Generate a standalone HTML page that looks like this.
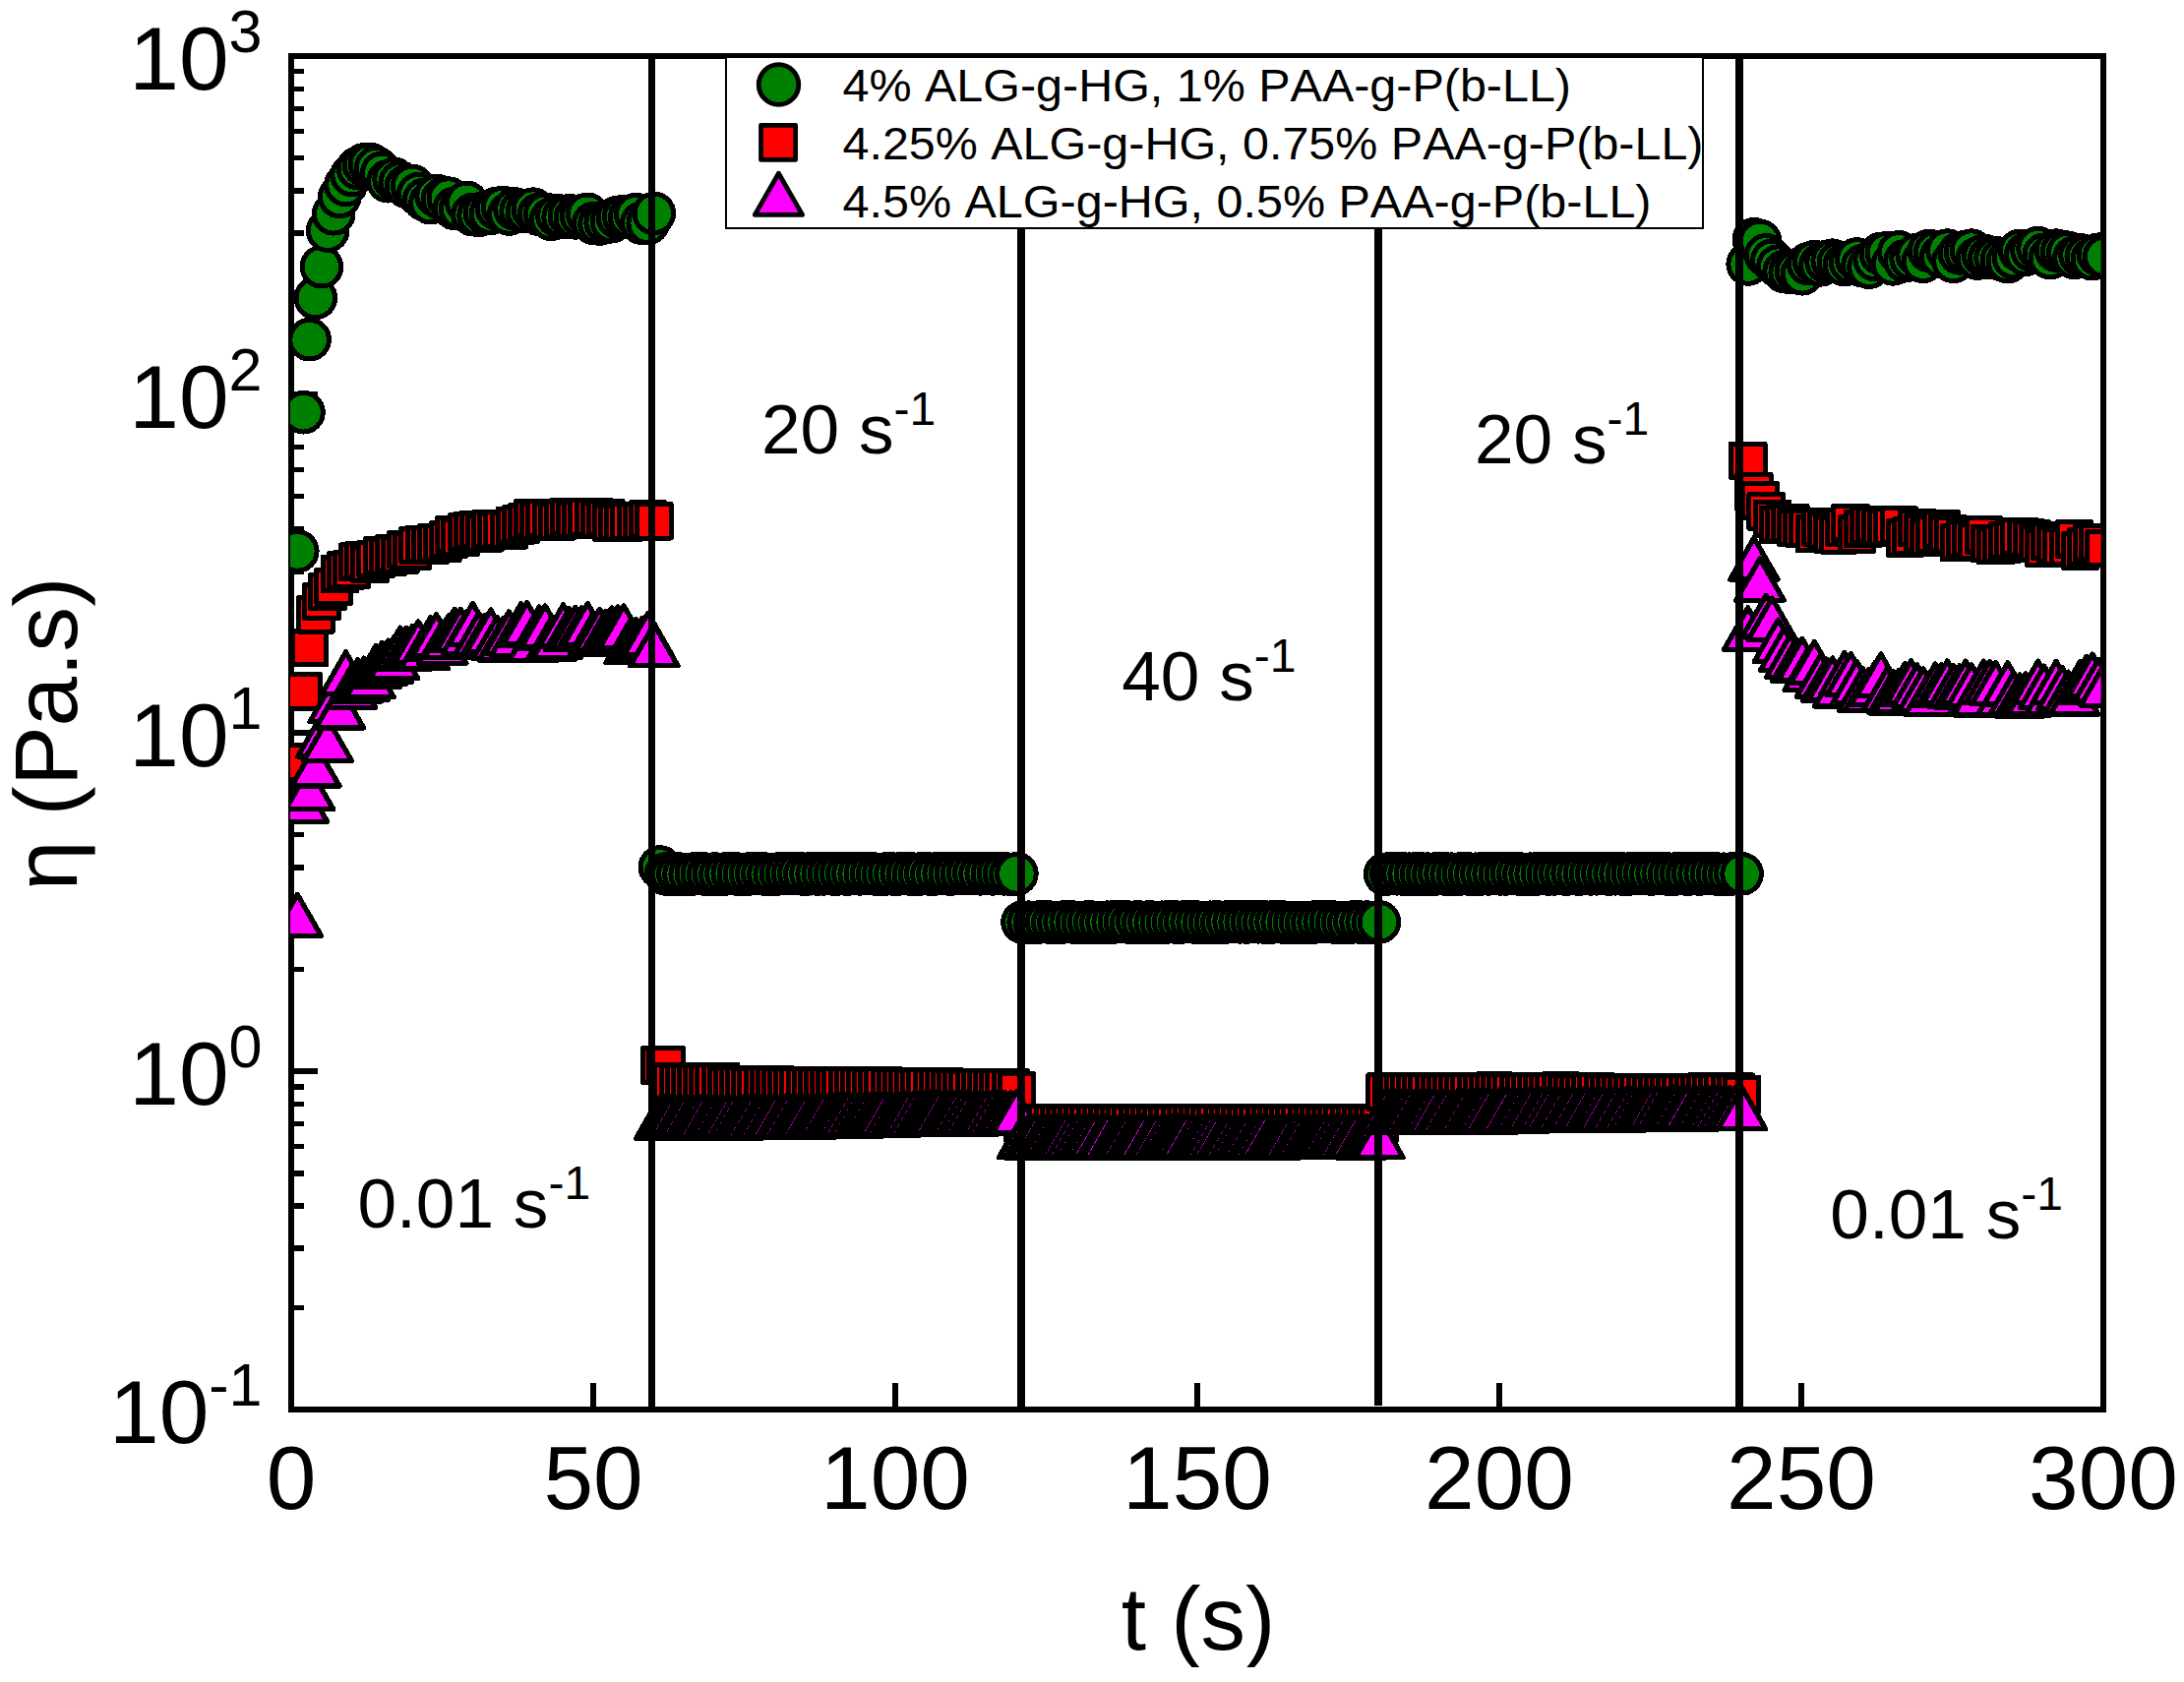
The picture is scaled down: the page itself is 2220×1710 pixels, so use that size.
<!DOCTYPE html>
<html lang="en"><head><meta charset="utf-8"><title>Viscosity recovery plot</title>
<style>html,body{margin:0;padding:0;background:#fff}body{width:2220px;height:1710px;overflow:hidden}svg{display:block}text{font-family:"Liberation Sans",Arial,Helvetica,sans-serif;fill:#000;font-kerning:none}.tk{font-size:91px}.sup{font-size:61px}.an{font-size:71.2px}.ans{font-size:48px}.lg{font-size:47px}.m{stroke:#000;stroke-width:4.8;stroke-linejoin:round}.d{stroke-width:5}.g{fill:#008000}.r{fill:#ff0000}.p{fill:#ff00ff}</style></head><body>
<svg width="2220" height="1710" viewBox="0 0 2220 1710">
<rect x="0" y="0" width="2220" height="1710" fill="#fff"/>
<defs>
<clipPath id="plotclip"><rect x="295" y="57.0" width="1840.1999999999998" height="1376.3"/></clipPath>
<clipPath id="xtclip"><rect x="1100" y="1610" width="240" height="85"/></clipPath>
<clipPath id="ytclip"><rect x="12.2" y="560" width="84.4" height="380"/></clipPath>
<clipPath id="lgclip"><rect x="738" y="57" width="993" height="176"/></clipPath>
</defs>
<g id="ticks" stroke="#000" stroke-width="5.5" fill="none" shape-rendering="crispEdges">
<line x1="296.0" y1="297.5" x2="309.0" y2="297.5"/>
<line x1="296.0" y1="236.9" x2="309.0" y2="236.9"/>
<line x1="296.0" y1="193.9" x2="309.0" y2="193.9"/>
<line x1="296.0" y1="160.6" x2="309.0" y2="160.6"/>
<line x1="296.0" y1="133.3" x2="309.0" y2="133.3"/>
<line x1="296.0" y1="110.3" x2="309.0" y2="110.3"/>
<line x1="296.0" y1="90.3" x2="309.0" y2="90.3"/>
<line x1="296.0" y1="72.7" x2="309.0" y2="72.7"/>
<line x1="296.0" y1="401.1" x2="323.0" y2="401.1"/>
<line x1="296.0" y1="641.6" x2="309.0" y2="641.6"/>
<line x1="296.0" y1="581.0" x2="309.0" y2="581.0"/>
<line x1="296.0" y1="538.0" x2="309.0" y2="538.0"/>
<line x1="296.0" y1="504.7" x2="309.0" y2="504.7"/>
<line x1="296.0" y1="477.4" x2="309.0" y2="477.4"/>
<line x1="296.0" y1="454.4" x2="309.0" y2="454.4"/>
<line x1="296.0" y1="434.4" x2="309.0" y2="434.4"/>
<line x1="296.0" y1="416.8" x2="309.0" y2="416.8"/>
<line x1="296.0" y1="745.1" x2="323.0" y2="745.1"/>
<line x1="296.0" y1="985.6" x2="309.0" y2="985.6"/>
<line x1="296.0" y1="925.1" x2="309.0" y2="925.1"/>
<line x1="296.0" y1="882.1" x2="309.0" y2="882.1"/>
<line x1="296.0" y1="848.7" x2="309.0" y2="848.7"/>
<line x1="296.0" y1="821.5" x2="309.0" y2="821.5"/>
<line x1="296.0" y1="798.4" x2="309.0" y2="798.4"/>
<line x1="296.0" y1="778.5" x2="309.0" y2="778.5"/>
<line x1="296.0" y1="760.9" x2="309.0" y2="760.9"/>
<line x1="296.0" y1="1089.2" x2="323.0" y2="1089.2"/>
<line x1="296.0" y1="1329.7" x2="309.0" y2="1329.7"/>
<line x1="296.0" y1="1269.1" x2="309.0" y2="1269.1"/>
<line x1="296.0" y1="1226.1" x2="309.0" y2="1226.1"/>
<line x1="296.0" y1="1192.8" x2="309.0" y2="1192.8"/>
<line x1="296.0" y1="1165.6" x2="309.0" y2="1165.6"/>
<line x1="296.0" y1="1142.5" x2="309.0" y2="1142.5"/>
<line x1="296.0" y1="1122.6" x2="309.0" y2="1122.6"/>
<line x1="296.0" y1="1105.0" x2="309.0" y2="1105.0"/>
<line x1="603.0" y1="1433.3" x2="603.0" y2="1405.6"/>
<line x1="910.0" y1="1433.3" x2="910.0" y2="1405.6"/>
<line x1="1217.0" y1="1433.3" x2="1217.0" y2="1405.6"/>
<line x1="1524.0" y1="1433.3" x2="1524.0" y2="1405.6"/>
<line x1="1831.0" y1="1433.3" x2="1831.0" y2="1405.6"/>
</g>
<rect x="296.0" y="57.0" width="1842.0" height="1376.3" fill="none" stroke="#000" stroke-width="6.2" shape-rendering="crispEdges"/>
<g id="data" clip-path="url(#plotclip)" shape-rendering="crispEdges">
<g class="m g d">
<circle cx="302.3" cy="560.4" r="19.8"/>
<circle cx="308.5" cy="419.2" r="19.8"/>
<circle cx="314.6" cy="345.2" r="19.8"/>
<circle cx="320.8" cy="302.9" r="19.8"/>
<circle cx="326.9" cy="271.2" r="19.8"/>
<circle cx="333.1" cy="234.6" r="19.8"/>
<circle cx="339.2" cy="217.3" r="19.8"/>
<circle cx="345.3" cy="200.0" r="19.8"/>
<circle cx="351.5" cy="188.0" r="19.8"/>
<circle cx="357.6" cy="178.0" r="19.8"/>
<circle cx="363.8" cy="171.0" r="19.8"/>
<circle cx="369.9" cy="167.5" r="19.8"/>
<circle cx="376.1" cy="166.9" r="19.8"/>
<circle cx="382.2" cy="170.4" r="19.8"/>
<circle cx="388.3" cy="175.8" r="19.8"/>
<circle cx="394.5" cy="184.3" r="19.8"/>
<circle cx="400.6" cy="181.9" r="19.8"/>
<circle cx="406.8" cy="185.5" r="19.8"/>
<circle cx="412.9" cy="189.5" r="19.8"/>
<circle cx="419.1" cy="189.0" r="19.8"/>
<circle cx="425.2" cy="197.2" r="19.8"/>
<circle cx="431.4" cy="202.9" r="19.8"/>
<circle cx="437.5" cy="206.1" r="19.8"/>
<circle cx="443.6" cy="198.9" r="19.8"/>
<circle cx="449.8" cy="202.7" r="19.8"/>
<circle cx="455.9" cy="201.6" r="19.8"/>
<circle cx="462.1" cy="211.9" r="19.8"/>
<circle cx="468.2" cy="212.1" r="19.8"/>
<circle cx="474.4" cy="205.8" r="19.8"/>
<circle cx="480.5" cy="218.1" r="19.8"/>
<circle cx="486.6" cy="218.9" r="19.8"/>
<circle cx="492.8" cy="216.2" r="19.8"/>
<circle cx="498.9" cy="216.8" r="19.8"/>
<circle cx="505.1" cy="212.0" r="19.8"/>
<circle cx="511.2" cy="210.9" r="19.8"/>
<circle cx="517.4" cy="217.6" r="19.8"/>
<circle cx="523.5" cy="212.5" r="19.8"/>
<circle cx="529.6" cy="214.4" r="19.8"/>
<circle cx="535.8" cy="215.1" r="19.8"/>
<circle cx="541.9" cy="212.6" r="19.8"/>
<circle cx="548.1" cy="217.9" r="19.8"/>
<circle cx="554.2" cy="217.8" r="19.8"/>
<circle cx="560.4" cy="222.8" r="19.8"/>
<circle cx="566.5" cy="219.1" r="19.8"/>
<circle cx="572.6" cy="220.8" r="19.8"/>
<circle cx="578.8" cy="219.3" r="19.8"/>
<circle cx="584.9" cy="221.4" r="19.8"/>
<circle cx="591.1" cy="219.4" r="19.8"/>
<circle cx="597.2" cy="217.8" r="19.8"/>
<circle cx="603.4" cy="227.0" r="19.8"/>
<circle cx="609.5" cy="227.5" r="19.8"/>
<circle cx="615.7" cy="226.2" r="19.8"/>
<circle cx="621.8" cy="225.1" r="19.8"/>
<circle cx="627.9" cy="220.9" r="19.8"/>
<circle cx="634.1" cy="220.0" r="19.8"/>
<circle cx="640.2" cy="220.8" r="19.8"/>
<circle cx="646.4" cy="218.2" r="19.8"/>
<circle cx="652.5" cy="226.7" r="19.8"/>
<circle cx="658.7" cy="226.9" r="19.8"/>
<circle cx="664.8" cy="216.9" r="19.8"/>
<circle cx="670.9" cy="881.5" r="19.8"/>
<circle cx="677.1" cy="888.5" r="19.8"/>
<circle cx="683.2" cy="888.9" r="19.8"/>
<circle cx="689.4" cy="888.5" r="19.8"/>
<circle cx="695.5" cy="889.0" r="19.8"/>
<circle cx="701.7" cy="888.9" r="19.8"/>
<circle cx="707.8" cy="888.1" r="19.8"/>
<circle cx="713.9" cy="888.3" r="19.8"/>
<circle cx="720.1" cy="889.0" r="19.8"/>
<circle cx="726.2" cy="888.5" r="19.8"/>
<circle cx="732.4" cy="889.0" r="19.8"/>
<circle cx="738.5" cy="888.4" r="19.8"/>
<circle cx="744.7" cy="888.1" r="19.8"/>
<circle cx="750.8" cy="888.7" r="19.8"/>
<circle cx="756.9" cy="888.8" r="19.8"/>
<circle cx="763.1" cy="888.3" r="19.8"/>
<circle cx="769.2" cy="888.1" r="19.8"/>
<circle cx="775.4" cy="888.3" r="19.8"/>
<circle cx="781.5" cy="889.0" r="19.8"/>
<circle cx="787.7" cy="888.8" r="19.8"/>
<circle cx="793.8" cy="888.1" r="19.8"/>
<circle cx="800.0" cy="888.2" r="19.8"/>
<circle cx="806.1" cy="888.1" r="19.8"/>
<circle cx="812.2" cy="888.0" r="19.8"/>
<circle cx="818.4" cy="888.8" r="19.8"/>
<circle cx="824.5" cy="888.2" r="19.8"/>
<circle cx="830.7" cy="888.5" r="19.8"/>
<circle cx="836.8" cy="888.4" r="19.8"/>
<circle cx="843.0" cy="888.2" r="19.8"/>
<circle cx="849.1" cy="888.7" r="19.8"/>
<circle cx="855.2" cy="888.1" r="19.8"/>
<circle cx="861.4" cy="888.6" r="19.8"/>
<circle cx="867.5" cy="888.1" r="19.8"/>
<circle cx="873.7" cy="888.4" r="19.8"/>
<circle cx="879.8" cy="888.1" r="19.8"/>
<circle cx="886.0" cy="888.2" r="19.8"/>
<circle cx="892.1" cy="888.9" r="19.8"/>
<circle cx="898.2" cy="888.7" r="19.8"/>
<circle cx="904.4" cy="888.2" r="19.8"/>
<circle cx="910.5" cy="888.8" r="19.8"/>
<circle cx="916.7" cy="888.1" r="19.8"/>
<circle cx="922.8" cy="888.3" r="19.8"/>
<circle cx="929.0" cy="888.7" r="19.8"/>
<circle cx="935.1" cy="888.5" r="19.8"/>
<circle cx="941.2" cy="888.0" r="19.8"/>
<circle cx="947.4" cy="888.9" r="19.8"/>
<circle cx="953.5" cy="888.1" r="19.8"/>
<circle cx="959.7" cy="888.1" r="19.8"/>
<circle cx="965.8" cy="888.6" r="19.8"/>
<circle cx="972.0" cy="888.2" r="19.8"/>
<circle cx="978.1" cy="888.1" r="19.8"/>
<circle cx="984.2" cy="887.9" r="19.8"/>
<circle cx="990.4" cy="887.9" r="19.8"/>
<circle cx="996.5" cy="888.4" r="19.8"/>
<circle cx="1002.7" cy="888.1" r="19.8"/>
<circle cx="1008.8" cy="888.4" r="19.8"/>
<circle cx="1015.0" cy="888.2" r="19.8"/>
<circle cx="1021.1" cy="888.3" r="19.8"/>
<circle cx="1027.3" cy="888.8" r="19.8"/>
<circle cx="1033.4" cy="888.3" r="19.8"/>
<circle cx="1039.5" cy="937.6" r="19.8"/>
<circle cx="1045.7" cy="937.7" r="19.8"/>
<circle cx="1051.8" cy="938.0" r="19.8"/>
<circle cx="1058.0" cy="937.3" r="19.8"/>
<circle cx="1064.1" cy="937.3" r="19.8"/>
<circle cx="1070.3" cy="938.0" r="19.8"/>
<circle cx="1076.4" cy="937.9" r="19.8"/>
<circle cx="1082.5" cy="937.3" r="19.8"/>
<circle cx="1088.7" cy="937.3" r="19.8"/>
<circle cx="1094.8" cy="937.8" r="19.8"/>
<circle cx="1101.0" cy="938.0" r="19.8"/>
<circle cx="1107.1" cy="937.3" r="19.8"/>
<circle cx="1113.3" cy="938.1" r="19.8"/>
<circle cx="1119.4" cy="938.0" r="19.8"/>
<circle cx="1125.5" cy="937.7" r="19.8"/>
<circle cx="1131.7" cy="937.5" r="19.8"/>
<circle cx="1137.8" cy="937.2" r="19.8"/>
<circle cx="1144.0" cy="937.1" r="19.8"/>
<circle cx="1150.1" cy="938.1" r="19.8"/>
<circle cx="1156.3" cy="937.3" r="19.8"/>
<circle cx="1162.4" cy="937.8" r="19.8"/>
<circle cx="1168.5" cy="937.4" r="19.8"/>
<circle cx="1174.7" cy="937.9" r="19.8"/>
<circle cx="1180.8" cy="937.7" r="19.8"/>
<circle cx="1187.0" cy="937.4" r="19.8"/>
<circle cx="1193.1" cy="937.3" r="19.8"/>
<circle cx="1199.3" cy="937.8" r="19.8"/>
<circle cx="1205.4" cy="937.2" r="19.8"/>
<circle cx="1211.6" cy="937.3" r="19.8"/>
<circle cx="1217.7" cy="937.7" r="19.8"/>
<circle cx="1223.8" cy="938.0" r="19.8"/>
<circle cx="1230.0" cy="937.7" r="19.8"/>
<circle cx="1236.1" cy="937.4" r="19.8"/>
<circle cx="1242.3" cy="938.0" r="19.8"/>
<circle cx="1248.4" cy="937.3" r="19.8"/>
<circle cx="1254.6" cy="937.1" r="19.8"/>
<circle cx="1260.7" cy="937.4" r="19.8"/>
<circle cx="1266.8" cy="937.5" r="19.8"/>
<circle cx="1273.0" cy="937.2" r="19.8"/>
<circle cx="1279.1" cy="937.3" r="19.8"/>
<circle cx="1285.3" cy="937.5" r="19.8"/>
<circle cx="1291.4" cy="937.7" r="19.8"/>
<circle cx="1297.6" cy="937.2" r="19.8"/>
<circle cx="1303.7" cy="937.5" r="19.8"/>
<circle cx="1309.8" cy="938.0" r="19.8"/>
<circle cx="1316.0" cy="938.1" r="19.8"/>
<circle cx="1322.1" cy="937.8" r="19.8"/>
<circle cx="1328.3" cy="937.8" r="19.8"/>
<circle cx="1334.4" cy="937.7" r="19.8"/>
<circle cx="1340.6" cy="937.2" r="19.8"/>
<circle cx="1346.7" cy="937.1" r="19.8"/>
<circle cx="1352.8" cy="937.1" r="19.8"/>
<circle cx="1359.0" cy="938.0" r="19.8"/>
<circle cx="1365.1" cy="937.8" r="19.8"/>
<circle cx="1371.3" cy="938.1" r="19.8"/>
<circle cx="1377.4" cy="937.1" r="19.8"/>
<circle cx="1383.6" cy="937.7" r="19.8"/>
<circle cx="1389.7" cy="937.6" r="19.8"/>
<circle cx="1395.9" cy="937.8" r="19.8"/>
<circle cx="1402.0" cy="937.4" r="19.8"/>
<circle cx="1408.1" cy="888.8" r="19.8"/>
<circle cx="1414.3" cy="887.9" r="19.8"/>
<circle cx="1420.4" cy="888.3" r="19.8"/>
<circle cx="1426.6" cy="888.5" r="19.8"/>
<circle cx="1432.7" cy="888.7" r="19.8"/>
<circle cx="1438.9" cy="888.5" r="19.8"/>
<circle cx="1445.0" cy="888.5" r="19.8"/>
<circle cx="1451.1" cy="888.6" r="19.8"/>
<circle cx="1457.3" cy="888.7" r="19.8"/>
<circle cx="1463.4" cy="888.2" r="19.8"/>
<circle cx="1469.6" cy="888.5" r="19.8"/>
<circle cx="1475.7" cy="888.7" r="19.8"/>
<circle cx="1481.9" cy="888.7" r="19.8"/>
<circle cx="1488.0" cy="888.2" r="19.8"/>
<circle cx="1494.1" cy="888.6" r="19.8"/>
<circle cx="1500.3" cy="888.7" r="19.8"/>
<circle cx="1506.4" cy="888.4" r="19.8"/>
<circle cx="1512.6" cy="888.4" r="19.8"/>
<circle cx="1518.7" cy="888.2" r="19.8"/>
<circle cx="1524.9" cy="888.4" r="19.8"/>
<circle cx="1531.0" cy="888.4" r="19.8"/>
<circle cx="1537.1" cy="887.9" r="19.8"/>
<circle cx="1543.3" cy="888.4" r="19.8"/>
<circle cx="1549.4" cy="888.8" r="19.8"/>
<circle cx="1555.6" cy="888.7" r="19.8"/>
<circle cx="1561.7" cy="888.5" r="19.8"/>
<circle cx="1567.9" cy="888.2" r="19.8"/>
<circle cx="1574.0" cy="888.5" r="19.8"/>
<circle cx="1580.1" cy="888.4" r="19.8"/>
<circle cx="1586.3" cy="888.2" r="19.8"/>
<circle cx="1592.4" cy="888.6" r="19.8"/>
<circle cx="1598.6" cy="887.9" r="19.8"/>
<circle cx="1604.7" cy="888.6" r="19.8"/>
<circle cx="1610.9" cy="887.8" r="19.8"/>
<circle cx="1617.0" cy="888.4" r="19.8"/>
<circle cx="1623.2" cy="888.3" r="19.8"/>
<circle cx="1629.3" cy="888.0" r="19.8"/>
<circle cx="1635.4" cy="888.5" r="19.8"/>
<circle cx="1641.6" cy="888.3" r="19.8"/>
<circle cx="1647.7" cy="888.4" r="19.8"/>
<circle cx="1653.9" cy="888.7" r="19.8"/>
<circle cx="1660.0" cy="888.1" r="19.8"/>
<circle cx="1666.2" cy="887.8" r="19.8"/>
<circle cx="1672.3" cy="888.1" r="19.8"/>
<circle cx="1678.4" cy="888.5" r="19.8"/>
<circle cx="1684.6" cy="888.0" r="19.8"/>
<circle cx="1690.7" cy="888.0" r="19.8"/>
<circle cx="1696.9" cy="888.7" r="19.8"/>
<circle cx="1703.0" cy="888.5" r="19.8"/>
<circle cx="1709.2" cy="888.2" r="19.8"/>
<circle cx="1715.3" cy="888.7" r="19.8"/>
<circle cx="1721.4" cy="888.1" r="19.8"/>
<circle cx="1727.6" cy="888.5" r="19.8"/>
<circle cx="1733.7" cy="888.0" r="19.8"/>
<circle cx="1739.9" cy="888.2" r="19.8"/>
<circle cx="1746.0" cy="888.6" r="19.8"/>
<circle cx="1752.2" cy="888.7" r="19.8"/>
<circle cx="1758.3" cy="888.7" r="19.8"/>
<circle cx="1764.4" cy="888.2" r="19.8"/>
<circle cx="1770.6" cy="888.4" r="19.8"/>
<circle cx="1776.7" cy="268.5" r="19.8"/>
<circle cx="1782.9" cy="243.2" r="19.8"/>
<circle cx="1789.0" cy="245.0" r="19.8"/>
<circle cx="1795.2" cy="259.4" r="19.8"/>
<circle cx="1801.3" cy="264.9" r="19.8"/>
<circle cx="1807.5" cy="270.6" r="19.8"/>
<circle cx="1813.6" cy="276.1" r="19.8"/>
<circle cx="1819.7" cy="276.9" r="19.8"/>
<circle cx="1825.9" cy="275.7" r="19.8"/>
<circle cx="1832.0" cy="278.3" r="19.8"/>
<circle cx="1838.2" cy="268.2" r="19.8"/>
<circle cx="1844.3" cy="266.1" r="19.8"/>
<circle cx="1850.5" cy="269.4" r="19.8"/>
<circle cx="1856.6" cy="266.2" r="19.8"/>
<circle cx="1862.7" cy="264.7" r="19.8"/>
<circle cx="1868.9" cy="266.9" r="19.8"/>
<circle cx="1875.0" cy="269.2" r="19.8"/>
<circle cx="1881.2" cy="266.6" r="19.8"/>
<circle cx="1887.3" cy="263.5" r="19.8"/>
<circle cx="1893.5" cy="270.1" r="19.8"/>
<circle cx="1899.6" cy="271.7" r="19.8"/>
<circle cx="1905.7" cy="263.9" r="19.8"/>
<circle cx="1911.9" cy="258.1" r="19.8"/>
<circle cx="1918.0" cy="257.1" r="19.8"/>
<circle cx="1924.2" cy="268.4" r="19.8"/>
<circle cx="1930.3" cy="256.4" r="19.8"/>
<circle cx="1936.5" cy="265.3" r="19.8"/>
<circle cx="1942.6" cy="262.9" r="19.8"/>
<circle cx="1948.7" cy="259.1" r="19.8"/>
<circle cx="1954.9" cy="265.8" r="19.8"/>
<circle cx="1961.0" cy="254.9" r="19.8"/>
<circle cx="1967.2" cy="256.4" r="19.8"/>
<circle cx="1973.3" cy="260.8" r="19.8"/>
<circle cx="1979.5" cy="254.6" r="19.8"/>
<circle cx="1985.6" cy="265.8" r="19.8"/>
<circle cx="1991.8" cy="257.4" r="19.8"/>
<circle cx="1997.9" cy="256.0" r="19.8"/>
<circle cx="2004.0" cy="254.6" r="19.8"/>
<circle cx="2010.2" cy="262.6" r="19.8"/>
<circle cx="2016.3" cy="259.8" r="19.8"/>
<circle cx="2022.5" cy="262.1" r="19.8"/>
<circle cx="2028.6" cy="262.2" r="19.8"/>
<circle cx="2034.8" cy="264.1" r="19.8"/>
<circle cx="2040.9" cy="266.0" r="19.8"/>
<circle cx="2047.0" cy="261.9" r="19.8"/>
<circle cx="2053.2" cy="254.9" r="19.8"/>
<circle cx="2059.3" cy="258.7" r="19.8"/>
<circle cx="2065.5" cy="254.6" r="19.8"/>
<circle cx="2071.6" cy="252.2" r="19.8"/>
<circle cx="2077.8" cy="258.7" r="19.8"/>
<circle cx="2083.9" cy="262.1" r="19.8"/>
<circle cx="2090.0" cy="254.6" r="19.8"/>
<circle cx="2096.2" cy="255.8" r="19.8"/>
<circle cx="2102.3" cy="256.9" r="19.8"/>
<circle cx="2108.5" cy="261.8" r="19.8"/>
<circle cx="2114.6" cy="259.3" r="19.8"/>
<circle cx="2120.8" cy="260.6" r="19.8"/>
<circle cx="2126.9" cy="263.2" r="19.8"/>
<circle cx="2133.0" cy="258.7" r="19.8"/>
<circle cx="2139.2" cy="260.8" r="19.8"/>
</g>
<g class="m r d">
<rect x="285.0" y="757.4" width="34.6" height="34.6"/>
<rect x="291.2" y="685.7" width="34.6" height="34.6"/>
<rect x="297.3" y="641.2" width="34.6" height="34.6"/>
<rect x="303.5" y="607.5" width="34.6" height="34.6"/>
<rect x="309.6" y="594.2" width="34.6" height="34.6"/>
<rect x="315.8" y="584.2" width="34.6" height="34.6"/>
<rect x="321.9" y="579.1" width="34.6" height="34.6"/>
<rect x="328.0" y="566.2" width="34.6" height="34.6"/>
<rect x="334.2" y="562.8" width="34.6" height="34.6"/>
<rect x="340.3" y="561.5" width="34.6" height="34.6"/>
<rect x="346.5" y="553.9" width="34.6" height="34.6"/>
<rect x="352.6" y="552.3" width="34.6" height="34.6"/>
<rect x="358.8" y="556.2" width="34.6" height="34.6"/>
<rect x="364.9" y="551.1" width="34.6" height="34.6"/>
<rect x="371.0" y="547.8" width="34.6" height="34.6"/>
<rect x="377.2" y="548.8" width="34.6" height="34.6"/>
<rect x="383.3" y="545.6" width="34.6" height="34.6"/>
<rect x="389.5" y="546.6" width="34.6" height="34.6"/>
<rect x="395.6" y="541.4" width="34.6" height="34.6"/>
<rect x="401.8" y="542.7" width="34.6" height="34.6"/>
<rect x="407.9" y="537.1" width="34.6" height="34.6"/>
<rect x="414.1" y="536.2" width="34.6" height="34.6"/>
<rect x="420.2" y="536.9" width="34.6" height="34.6"/>
<rect x="426.3" y="534.6" width="34.6" height="34.6"/>
<rect x="432.5" y="534.8" width="34.6" height="34.6"/>
<rect x="438.6" y="531.2" width="34.6" height="34.6"/>
<rect x="444.8" y="526.2" width="34.6" height="34.6"/>
<rect x="450.9" y="528.6" width="34.6" height="34.6"/>
<rect x="457.1" y="523.6" width="34.6" height="34.6"/>
<rect x="463.2" y="522.1" width="34.6" height="34.6"/>
<rect x="469.3" y="521.3" width="34.6" height="34.6"/>
<rect x="475.5" y="524.4" width="34.6" height="34.6"/>
<rect x="481.6" y="520.6" width="34.6" height="34.6"/>
<rect x="487.8" y="522.1" width="34.6" height="34.6"/>
<rect x="493.9" y="520.9" width="34.6" height="34.6"/>
<rect x="500.1" y="521.5" width="34.6" height="34.6"/>
<rect x="506.2" y="517.3" width="34.6" height="34.6"/>
<rect x="512.3" y="515.7" width="34.6" height="34.6"/>
<rect x="518.5" y="513.3" width="34.6" height="34.6"/>
<rect x="524.6" y="509.5" width="34.6" height="34.6"/>
<rect x="530.8" y="512.8" width="34.6" height="34.6"/>
<rect x="536.9" y="509.5" width="34.6" height="34.6"/>
<rect x="543.1" y="511.7" width="34.6" height="34.6"/>
<rect x="549.2" y="512.4" width="34.6" height="34.6"/>
<rect x="555.3" y="510.7" width="34.6" height="34.6"/>
<rect x="561.5" y="508.1" width="34.6" height="34.6"/>
<rect x="567.6" y="511.3" width="34.6" height="34.6"/>
<rect x="573.8" y="510.9" width="34.6" height="34.6"/>
<rect x="579.9" y="508.8" width="34.6" height="34.6"/>
<rect x="586.1" y="508.4" width="34.6" height="34.6"/>
<rect x="592.2" y="511.2" width="34.6" height="34.6"/>
<rect x="598.4" y="509.0" width="34.6" height="34.6"/>
<rect x="604.5" y="513.8" width="34.6" height="34.6"/>
<rect x="610.6" y="513.0" width="34.6" height="34.6"/>
<rect x="616.8" y="514.3" width="34.6" height="34.6"/>
<rect x="622.9" y="512.6" width="34.6" height="34.6"/>
<rect x="629.1" y="512.7" width="34.6" height="34.6"/>
<rect x="635.2" y="512.8" width="34.6" height="34.6"/>
<rect x="641.4" y="510.7" width="34.6" height="34.6"/>
<rect x="647.5" y="512.4" width="34.6" height="34.6"/>
<rect x="653.6" y="1065.6" width="34.6" height="34.6"/>
<rect x="659.8" y="1065.6" width="34.6" height="34.6"/>
<rect x="665.9" y="1082.7" width="34.6" height="34.6"/>
<rect x="672.1" y="1083.0" width="34.6" height="34.6"/>
<rect x="678.2" y="1082.7" width="34.6" height="34.6"/>
<rect x="684.4" y="1083.0" width="34.6" height="34.6"/>
<rect x="690.5" y="1083.0" width="34.6" height="34.6"/>
<rect x="696.6" y="1082.8" width="34.6" height="34.6"/>
<rect x="702.8" y="1083.1" width="34.6" height="34.6"/>
<rect x="708.9" y="1082.9" width="34.6" height="34.6"/>
<rect x="715.1" y="1082.4" width="34.6" height="34.6"/>
<rect x="721.2" y="1086.4" width="34.6" height="34.6"/>
<rect x="727.4" y="1085.6" width="34.6" height="34.6"/>
<rect x="733.5" y="1085.7" width="34.6" height="34.6"/>
<rect x="739.6" y="1085.7" width="34.6" height="34.6"/>
<rect x="745.8" y="1086.3" width="34.6" height="34.6"/>
<rect x="751.9" y="1086.3" width="34.6" height="34.6"/>
<rect x="758.1" y="1085.8" width="34.6" height="34.6"/>
<rect x="764.2" y="1085.7" width="34.6" height="34.6"/>
<rect x="770.4" y="1085.3" width="34.6" height="34.6"/>
<rect x="776.5" y="1086.6" width="34.6" height="34.6"/>
<rect x="782.7" y="1086.0" width="34.6" height="34.6"/>
<rect x="788.8" y="1086.8" width="34.6" height="34.6"/>
<rect x="794.9" y="1086.5" width="34.6" height="34.6"/>
<rect x="801.1" y="1086.5" width="34.6" height="34.6"/>
<rect x="807.2" y="1086.5" width="34.6" height="34.6"/>
<rect x="813.4" y="1086.3" width="34.6" height="34.6"/>
<rect x="819.5" y="1086.1" width="34.6" height="34.6"/>
<rect x="825.7" y="1086.7" width="34.6" height="34.6"/>
<rect x="831.8" y="1087.1" width="34.6" height="34.6"/>
<rect x="837.9" y="1086.9" width="34.6" height="34.6"/>
<rect x="844.1" y="1086.3" width="34.6" height="34.6"/>
<rect x="850.2" y="1086.9" width="34.6" height="34.6"/>
<rect x="856.4" y="1086.2" width="34.6" height="34.6"/>
<rect x="862.5" y="1086.6" width="34.6" height="34.6"/>
<rect x="868.7" y="1087.1" width="34.6" height="34.6"/>
<rect x="874.8" y="1087.2" width="34.6" height="34.6"/>
<rect x="880.9" y="1086.7" width="34.6" height="34.6"/>
<rect x="887.1" y="1087.6" width="34.6" height="34.6"/>
<rect x="893.2" y="1087.7" width="34.6" height="34.6"/>
<rect x="899.4" y="1087.7" width="34.6" height="34.6"/>
<rect x="905.5" y="1087.8" width="34.6" height="34.6"/>
<rect x="911.7" y="1088.3" width="34.6" height="34.6"/>
<rect x="917.8" y="1088.0" width="34.6" height="34.6"/>
<rect x="923.9" y="1087.7" width="34.6" height="34.6"/>
<rect x="930.1" y="1088.0" width="34.6" height="34.6"/>
<rect x="936.2" y="1087.9" width="34.6" height="34.6"/>
<rect x="942.4" y="1087.5" width="34.6" height="34.6"/>
<rect x="948.5" y="1088.0" width="34.6" height="34.6"/>
<rect x="954.7" y="1088.1" width="34.6" height="34.6"/>
<rect x="960.8" y="1088.3" width="34.6" height="34.6"/>
<rect x="966.9" y="1089.2" width="34.6" height="34.6"/>
<rect x="973.1" y="1088.1" width="34.6" height="34.6"/>
<rect x="979.2" y="1088.7" width="34.6" height="34.6"/>
<rect x="985.4" y="1088.9" width="34.6" height="34.6"/>
<rect x="991.5" y="1088.5" width="34.6" height="34.6"/>
<rect x="997.7" y="1088.3" width="34.6" height="34.6"/>
<rect x="1003.8" y="1088.9" width="34.6" height="34.6"/>
<rect x="1010.0" y="1088.6" width="34.6" height="34.6"/>
<rect x="1016.1" y="1091.5" width="34.6" height="34.6"/>
<rect x="1022.2" y="1124.8" width="34.6" height="34.6"/>
<rect x="1028.4" y="1124.6" width="34.6" height="34.6"/>
<rect x="1034.5" y="1125.7" width="34.6" height="34.6"/>
<rect x="1040.7" y="1124.9" width="34.6" height="34.6"/>
<rect x="1046.8" y="1124.6" width="34.6" height="34.6"/>
<rect x="1053.0" y="1124.8" width="34.6" height="34.6"/>
<rect x="1059.1" y="1124.8" width="34.6" height="34.6"/>
<rect x="1065.2" y="1125.5" width="34.6" height="34.6"/>
<rect x="1071.4" y="1124.7" width="34.6" height="34.6"/>
<rect x="1077.5" y="1124.8" width="34.6" height="34.6"/>
<rect x="1083.7" y="1124.6" width="34.6" height="34.6"/>
<rect x="1089.8" y="1125.1" width="34.6" height="34.6"/>
<rect x="1096.0" y="1124.7" width="34.6" height="34.6"/>
<rect x="1102.1" y="1124.9" width="34.6" height="34.6"/>
<rect x="1108.2" y="1125.4" width="34.6" height="34.6"/>
<rect x="1114.4" y="1125.6" width="34.6" height="34.6"/>
<rect x="1120.5" y="1125.5" width="34.6" height="34.6"/>
<rect x="1126.7" y="1124.5" width="34.6" height="34.6"/>
<rect x="1132.8" y="1125.0" width="34.6" height="34.6"/>
<rect x="1139.0" y="1125.5" width="34.6" height="34.6"/>
<rect x="1145.1" y="1124.5" width="34.6" height="34.6"/>
<rect x="1151.2" y="1124.7" width="34.6" height="34.6"/>
<rect x="1157.4" y="1125.1" width="34.6" height="34.6"/>
<rect x="1163.5" y="1125.0" width="34.6" height="34.6"/>
<rect x="1169.7" y="1125.4" width="34.6" height="34.6"/>
<rect x="1175.8" y="1125.4" width="34.6" height="34.6"/>
<rect x="1182.0" y="1125.1" width="34.6" height="34.6"/>
<rect x="1188.1" y="1124.8" width="34.6" height="34.6"/>
<rect x="1194.3" y="1124.8" width="34.6" height="34.6"/>
<rect x="1200.4" y="1124.8" width="34.6" height="34.6"/>
<rect x="1206.5" y="1124.6" width="34.6" height="34.6"/>
<rect x="1212.7" y="1125.3" width="34.6" height="34.6"/>
<rect x="1218.8" y="1124.7" width="34.6" height="34.6"/>
<rect x="1225.0" y="1125.6" width="34.6" height="34.6"/>
<rect x="1231.1" y="1125.3" width="34.6" height="34.6"/>
<rect x="1237.3" y="1124.6" width="34.6" height="34.6"/>
<rect x="1243.4" y="1125.1" width="34.6" height="34.6"/>
<rect x="1249.5" y="1125.2" width="34.6" height="34.6"/>
<rect x="1255.7" y="1124.6" width="34.6" height="34.6"/>
<rect x="1261.8" y="1125.1" width="34.6" height="34.6"/>
<rect x="1268.0" y="1124.5" width="34.6" height="34.6"/>
<rect x="1274.1" y="1125.4" width="34.6" height="34.6"/>
<rect x="1280.3" y="1124.5" width="34.6" height="34.6"/>
<rect x="1286.4" y="1125.3" width="34.6" height="34.6"/>
<rect x="1292.5" y="1125.7" width="34.6" height="34.6"/>
<rect x="1298.7" y="1125.5" width="34.6" height="34.6"/>
<rect x="1304.8" y="1124.8" width="34.6" height="34.6"/>
<rect x="1311.0" y="1125.1" width="34.6" height="34.6"/>
<rect x="1317.1" y="1124.7" width="34.6" height="34.6"/>
<rect x="1323.3" y="1124.9" width="34.6" height="34.6"/>
<rect x="1329.4" y="1125.5" width="34.6" height="34.6"/>
<rect x="1335.5" y="1125.5" width="34.6" height="34.6"/>
<rect x="1341.7" y="1124.5" width="34.6" height="34.6"/>
<rect x="1347.8" y="1125.0" width="34.6" height="34.6"/>
<rect x="1354.0" y="1125.3" width="34.6" height="34.6"/>
<rect x="1360.1" y="1124.7" width="34.6" height="34.6"/>
<rect x="1366.3" y="1125.5" width="34.6" height="34.6"/>
<rect x="1372.4" y="1125.6" width="34.6" height="34.6"/>
<rect x="1378.6" y="1125.2" width="34.6" height="34.6"/>
<rect x="1384.7" y="1124.9" width="34.6" height="34.6"/>
<rect x="1390.8" y="1092.8" width="34.6" height="34.6"/>
<rect x="1397.0" y="1092.4" width="34.6" height="34.6"/>
<rect x="1403.1" y="1092.0" width="34.6" height="34.6"/>
<rect x="1409.3" y="1092.1" width="34.6" height="34.6"/>
<rect x="1415.4" y="1092.0" width="34.6" height="34.6"/>
<rect x="1421.6" y="1092.8" width="34.6" height="34.6"/>
<rect x="1427.7" y="1092.4" width="34.6" height="34.6"/>
<rect x="1433.8" y="1092.6" width="34.6" height="34.6"/>
<rect x="1440.0" y="1092.8" width="34.6" height="34.6"/>
<rect x="1446.1" y="1093.0" width="34.6" height="34.6"/>
<rect x="1452.3" y="1092.0" width="34.6" height="34.6"/>
<rect x="1458.4" y="1092.3" width="34.6" height="34.6"/>
<rect x="1464.6" y="1092.8" width="34.6" height="34.6"/>
<rect x="1470.7" y="1092.7" width="34.6" height="34.6"/>
<rect x="1476.8" y="1092.3" width="34.6" height="34.6"/>
<rect x="1483.0" y="1092.6" width="34.6" height="34.6"/>
<rect x="1489.1" y="1092.0" width="34.6" height="34.6"/>
<rect x="1495.3" y="1092.0" width="34.6" height="34.6"/>
<rect x="1501.4" y="1091.9" width="34.6" height="34.6"/>
<rect x="1507.6" y="1092.3" width="34.6" height="34.6"/>
<rect x="1513.7" y="1092.1" width="34.6" height="34.6"/>
<rect x="1519.8" y="1092.4" width="34.6" height="34.6"/>
<rect x="1526.0" y="1093.0" width="34.6" height="34.6"/>
<rect x="1532.1" y="1092.0" width="34.6" height="34.6"/>
<rect x="1538.3" y="1092.5" width="34.6" height="34.6"/>
<rect x="1544.4" y="1092.8" width="34.6" height="34.6"/>
<rect x="1550.6" y="1092.5" width="34.6" height="34.6"/>
<rect x="1556.7" y="1092.4" width="34.6" height="34.6"/>
<rect x="1562.8" y="1092.7" width="34.6" height="34.6"/>
<rect x="1569.0" y="1091.8" width="34.6" height="34.6"/>
<rect x="1575.1" y="1093.1" width="34.6" height="34.6"/>
<rect x="1581.3" y="1093.0" width="34.6" height="34.6"/>
<rect x="1587.4" y="1093.4" width="34.6" height="34.6"/>
<rect x="1593.6" y="1093.6" width="34.6" height="34.6"/>
<rect x="1599.7" y="1092.9" width="34.6" height="34.6"/>
<rect x="1605.9" y="1092.9" width="34.6" height="34.6"/>
<rect x="1612.0" y="1093.0" width="34.6" height="34.6"/>
<rect x="1618.1" y="1093.4" width="34.6" height="34.6"/>
<rect x="1624.3" y="1093.9" width="34.6" height="34.6"/>
<rect x="1630.4" y="1093.9" width="34.6" height="34.6"/>
<rect x="1636.6" y="1093.3" width="34.6" height="34.6"/>
<rect x="1642.7" y="1093.5" width="34.6" height="34.6"/>
<rect x="1648.9" y="1093.7" width="34.6" height="34.6"/>
<rect x="1655.0" y="1093.2" width="34.6" height="34.6"/>
<rect x="1661.1" y="1094.0" width="34.6" height="34.6"/>
<rect x="1667.3" y="1093.9" width="34.6" height="34.6"/>
<rect x="1673.4" y="1093.7" width="34.6" height="34.6"/>
<rect x="1679.6" y="1093.9" width="34.6" height="34.6"/>
<rect x="1685.7" y="1093.8" width="34.6" height="34.6"/>
<rect x="1691.9" y="1093.6" width="34.6" height="34.6"/>
<rect x="1698.0" y="1093.2" width="34.6" height="34.6"/>
<rect x="1704.1" y="1093.1" width="34.6" height="34.6"/>
<rect x="1710.3" y="1093.1" width="34.6" height="34.6"/>
<rect x="1716.4" y="1092.9" width="34.6" height="34.6"/>
<rect x="1722.6" y="1093.9" width="34.6" height="34.6"/>
<rect x="1728.7" y="1093.2" width="34.6" height="34.6"/>
<rect x="1734.9" y="1092.8" width="34.6" height="34.6"/>
<rect x="1741.0" y="1093.2" width="34.6" height="34.6"/>
<rect x="1747.1" y="1092.9" width="34.6" height="34.6"/>
<rect x="1753.3" y="1095.3" width="34.6" height="34.6"/>
<rect x="1759.4" y="451.0" width="34.6" height="34.6"/>
<rect x="1765.6" y="482.7" width="34.6" height="34.6"/>
<rect x="1771.7" y="491.7" width="34.6" height="34.6"/>
<rect x="1777.9" y="502.7" width="34.6" height="34.6"/>
<rect x="1784.0" y="510.0" width="34.6" height="34.6"/>
<rect x="1790.2" y="516.0" width="34.6" height="34.6"/>
<rect x="1796.3" y="515.5" width="34.6" height="34.6"/>
<rect x="1802.4" y="514.4" width="34.6" height="34.6"/>
<rect x="1808.6" y="519.2" width="34.6" height="34.6"/>
<rect x="1814.7" y="519.4" width="34.6" height="34.6"/>
<rect x="1820.9" y="519.5" width="34.6" height="34.6"/>
<rect x="1827.0" y="525.3" width="34.6" height="34.6"/>
<rect x="1833.2" y="518.5" width="34.6" height="34.6"/>
<rect x="1839.3" y="521.4" width="34.6" height="34.6"/>
<rect x="1845.4" y="525.6" width="34.6" height="34.6"/>
<rect x="1851.6" y="526.5" width="34.6" height="34.6"/>
<rect x="1857.7" y="518.7" width="34.6" height="34.6"/>
<rect x="1863.9" y="514.2" width="34.6" height="34.6"/>
<rect x="1870.0" y="525.8" width="34.6" height="34.6"/>
<rect x="1876.2" y="520.0" width="34.6" height="34.6"/>
<rect x="1882.3" y="516.6" width="34.6" height="34.6"/>
<rect x="1888.4" y="516.0" width="34.6" height="34.6"/>
<rect x="1894.6" y="517.9" width="34.6" height="34.6"/>
<rect x="1900.7" y="519.3" width="34.6" height="34.6"/>
<rect x="1906.9" y="517.6" width="34.6" height="34.6"/>
<rect x="1913.0" y="516.9" width="34.6" height="34.6"/>
<rect x="1919.2" y="529.7" width="34.6" height="34.6"/>
<rect x="1925.3" y="527.9" width="34.6" height="34.6"/>
<rect x="1931.4" y="519.2" width="34.6" height="34.6"/>
<rect x="1937.6" y="524.5" width="34.6" height="34.6"/>
<rect x="1943.7" y="529.1" width="34.6" height="34.6"/>
<rect x="1949.9" y="525.8" width="34.6" height="34.6"/>
<rect x="1956.0" y="520.6" width="34.6" height="34.6"/>
<rect x="1962.2" y="525.0" width="34.6" height="34.6"/>
<rect x="1968.3" y="526.4" width="34.6" height="34.6"/>
<rect x="1974.5" y="534.3" width="34.6" height="34.6"/>
<rect x="1980.6" y="530.9" width="34.6" height="34.6"/>
<rect x="1986.7" y="530.2" width="34.6" height="34.6"/>
<rect x="1992.9" y="533.3" width="34.6" height="34.6"/>
<rect x="1999.0" y="526.6" width="34.6" height="34.6"/>
<rect x="2005.2" y="535.3" width="34.6" height="34.6"/>
<rect x="2011.3" y="537.2" width="34.6" height="34.6"/>
<rect x="2017.5" y="535.8" width="34.6" height="34.6"/>
<rect x="2023.6" y="532.1" width="34.6" height="34.6"/>
<rect x="2029.7" y="531.5" width="34.6" height="34.6"/>
<rect x="2035.9" y="528.3" width="34.6" height="34.6"/>
<rect x="2042.0" y="529.5" width="34.6" height="34.6"/>
<rect x="2048.2" y="530.8" width="34.6" height="34.6"/>
<rect x="2054.3" y="535.1" width="34.6" height="34.6"/>
<rect x="2060.5" y="539.7" width="34.6" height="34.6"/>
<rect x="2066.6" y="532.7" width="34.6" height="34.6"/>
<rect x="2072.7" y="536.2" width="34.6" height="34.6"/>
<rect x="2078.9" y="538.5" width="34.6" height="34.6"/>
<rect x="2085.0" y="538.6" width="34.6" height="34.6"/>
<rect x="2091.2" y="530.8" width="34.6" height="34.6"/>
<rect x="2097.3" y="542.7" width="34.6" height="34.6"/>
<rect x="2103.5" y="538.5" width="34.6" height="34.6"/>
<rect x="2109.6" y="534.9" width="34.6" height="34.6"/>
<rect x="2115.7" y="534.1" width="34.6" height="34.6"/>
<rect x="2121.9" y="540.0" width="34.6" height="34.6"/>
</g>
<g class="m p d" style="stroke-width:5.25">
<path d="M302.3 909.2l24.2 42.25h-48.4z"/>
<path d="M308.5 793.1l24.2 42.25h-48.4z"/>
<path d="M314.6 780.5l24.2 42.25h-48.4z"/>
<path d="M320.8 756.8l24.2 42.25h-48.4z"/>
<path d="M326.9 726.8l24.2 42.25h-48.4z"/>
<path d="M333.1 731.0l24.2 42.25h-48.4z"/>
<path d="M339.2 691.6l24.2 42.25h-48.4z"/>
<path d="M345.3 697.7l24.2 42.25h-48.4z"/>
<path d="M351.5 662.9l24.2 42.25h-48.4z"/>
<path d="M357.6 676.9l24.2 42.25h-48.4z"/>
<path d="M363.8 670.7l24.2 42.25h-48.4z"/>
<path d="M369.9 669.2l24.2 42.25h-48.4z"/>
<path d="M376.1 666.6l24.2 42.25h-48.4z"/>
<path d="M382.2 656.3l24.2 42.25h-48.4z"/>
<path d="M388.3 653.3l24.2 42.25h-48.4z"/>
<path d="M394.5 651.2l24.2 42.25h-48.4z"/>
<path d="M400.6 647.4l24.2 42.25h-48.4z"/>
<path d="M406.8 638.1l24.2 42.25h-48.4z"/>
<path d="M412.9 638.3l24.2 42.25h-48.4z"/>
<path d="M419.1 636.5l24.2 42.25h-48.4z"/>
<path d="M425.2 631.8l24.2 42.25h-48.4z"/>
<path d="M431.4 637.5l24.2 42.25h-48.4z"/>
<path d="M437.5 627.9l24.2 42.25h-48.4z"/>
<path d="M443.6 624.8l24.2 42.25h-48.4z"/>
<path d="M449.8 632.1l24.2 42.25h-48.4z"/>
<path d="M455.9 626.0l24.2 42.25h-48.4z"/>
<path d="M462.1 619.5l24.2 42.25h-48.4z"/>
<path d="M468.2 619.2l24.2 42.25h-48.4z"/>
<path d="M474.4 622.0l24.2 42.25h-48.4z"/>
<path d="M480.5 613.5l24.2 42.25h-48.4z"/>
<path d="M486.6 623.4l24.2 42.25h-48.4z"/>
<path d="M492.8 625.6l24.2 42.25h-48.4z"/>
<path d="M498.9 620.0l24.2 42.25h-48.4z"/>
<path d="M505.1 627.4l24.2 42.25h-48.4z"/>
<path d="M511.2 628.8l24.2 42.25h-48.4z"/>
<path d="M517.4 622.0l24.2 42.25h-48.4z"/>
<path d="M523.5 624.2l24.2 42.25h-48.4z"/>
<path d="M529.6 613.9l24.2 42.25h-48.4z"/>
<path d="M535.8 612.7l24.2 42.25h-48.4z"/>
<path d="M541.9 629.2l24.2 42.25h-48.4z"/>
<path d="M548.1 616.9l24.2 42.25h-48.4z"/>
<path d="M554.2 615.8l24.2 42.25h-48.4z"/>
<path d="M560.4 628.3l24.2 42.25h-48.4z"/>
<path d="M566.5 625.9l24.2 42.25h-48.4z"/>
<path d="M572.6 614.8l24.2 42.25h-48.4z"/>
<path d="M578.8 618.6l24.2 42.25h-48.4z"/>
<path d="M584.9 617.4l24.2 42.25h-48.4z"/>
<path d="M591.1 618.1l24.2 42.25h-48.4z"/>
<path d="M597.2 613.5l24.2 42.25h-48.4z"/>
<path d="M603.4 623.0l24.2 42.25h-48.4z"/>
<path d="M609.5 619.4l24.2 42.25h-48.4z"/>
<path d="M615.7 621.4l24.2 42.25h-48.4z"/>
<path d="M621.8 618.0l24.2 42.25h-48.4z"/>
<path d="M627.9 617.0l24.2 42.25h-48.4z"/>
<path d="M634.1 616.0l24.2 42.25h-48.4z"/>
<path d="M640.2 631.5l24.2 42.25h-48.4z"/>
<path d="M646.4 629.6l24.2 42.25h-48.4z"/>
<path d="M652.5 628.7l24.2 42.25h-48.4z"/>
<path d="M658.7 623.3l24.2 42.25h-48.4z"/>
<path d="M664.8 634.6l24.2 42.25h-48.4z"/>
<path d="M670.9 1114.9l24.2 42.25h-48.4z"/>
<path d="M677.1 1114.4l24.2 42.25h-48.4z"/>
<path d="M683.2 1114.3l24.2 42.25h-48.4z"/>
<path d="M689.4 1114.6l24.2 42.25h-48.4z"/>
<path d="M695.5 1114.2l24.2 42.25h-48.4z"/>
<path d="M701.7 1114.5l24.2 42.25h-48.4z"/>
<path d="M707.8 1114.4l24.2 42.25h-48.4z"/>
<path d="M713.9 1114.4l24.2 42.25h-48.4z"/>
<path d="M720.1 1115.0l24.2 42.25h-48.4z"/>
<path d="M726.2 1114.7l24.2 42.25h-48.4z"/>
<path d="M732.4 1114.7l24.2 42.25h-48.4z"/>
<path d="M738.5 1114.5l24.2 42.25h-48.4z"/>
<path d="M744.7 1114.8l24.2 42.25h-48.4z"/>
<path d="M750.8 1115.1l24.2 42.25h-48.4z"/>
<path d="M756.9 1114.4l24.2 42.25h-48.4z"/>
<path d="M763.1 1114.0l24.2 42.25h-48.4z"/>
<path d="M769.2 1114.4l24.2 42.25h-48.4z"/>
<path d="M775.4 1114.2l24.2 42.25h-48.4z"/>
<path d="M781.5 1114.6l24.2 42.25h-48.4z"/>
<path d="M787.7 1113.6l24.2 42.25h-48.4z"/>
<path d="M793.8 1114.5l24.2 42.25h-48.4z"/>
<path d="M800.0 1113.2l24.2 42.25h-48.4z"/>
<path d="M806.1 1113.8l24.2 42.25h-48.4z"/>
<path d="M812.2 1113.5l24.2 42.25h-48.4z"/>
<path d="M818.4 1113.2l24.2 42.25h-48.4z"/>
<path d="M824.5 1113.9l24.2 42.25h-48.4z"/>
<path d="M830.7 1113.5l24.2 42.25h-48.4z"/>
<path d="M836.8 1112.7l24.2 42.25h-48.4z"/>
<path d="M843.0 1113.0l24.2 42.25h-48.4z"/>
<path d="M849.1 1113.0l24.2 42.25h-48.4z"/>
<path d="M855.2 1112.1l24.2 42.25h-48.4z"/>
<path d="M861.4 1112.0l24.2 42.25h-48.4z"/>
<path d="M867.5 1112.6l24.2 42.25h-48.4z"/>
<path d="M873.7 1112.7l24.2 42.25h-48.4z"/>
<path d="M879.8 1112.2l24.2 42.25h-48.4z"/>
<path d="M886.0 1112.0l24.2 42.25h-48.4z"/>
<path d="M892.1 1112.0l24.2 42.25h-48.4z"/>
<path d="M898.2 1111.5l24.2 42.25h-48.4z"/>
<path d="M904.4 1112.2l24.2 42.25h-48.4z"/>
<path d="M910.5 1112.2l24.2 42.25h-48.4z"/>
<path d="M916.7 1111.4l24.2 42.25h-48.4z"/>
<path d="M922.8 1110.6l24.2 42.25h-48.4z"/>
<path d="M929.0 1111.0l24.2 42.25h-48.4z"/>
<path d="M935.1 1111.4l24.2 42.25h-48.4z"/>
<path d="M941.2 1110.6l24.2 42.25h-48.4z"/>
<path d="M947.4 1110.1l24.2 42.25h-48.4z"/>
<path d="M953.5 1110.1l24.2 42.25h-48.4z"/>
<path d="M959.7 1110.7l24.2 42.25h-48.4z"/>
<path d="M965.8 1110.4l24.2 42.25h-48.4z"/>
<path d="M972.0 1109.8l24.2 42.25h-48.4z"/>
<path d="M978.1 1110.3l24.2 42.25h-48.4z"/>
<path d="M984.2 1110.4l24.2 42.25h-48.4z"/>
<path d="M990.4 1110.7l24.2 42.25h-48.4z"/>
<path d="M996.5 1110.5l24.2 42.25h-48.4z"/>
<path d="M1002.7 1110.0l24.2 42.25h-48.4z"/>
<path d="M1008.8 1110.5l24.2 42.25h-48.4z"/>
<path d="M1015.0 1110.6l24.2 42.25h-48.4z"/>
<path d="M1021.1 1110.5l24.2 42.25h-48.4z"/>
<path d="M1027.3 1110.4l24.2 42.25h-48.4z"/>
<path d="M1033.4 1109.4l24.2 42.25h-48.4z"/>
<path d="M1039.5 1134.6l24.2 42.25h-48.4z"/>
<path d="M1045.7 1134.7l24.2 42.25h-48.4z"/>
<path d="M1051.8 1134.6l24.2 42.25h-48.4z"/>
<path d="M1058.0 1135.1l24.2 42.25h-48.4z"/>
<path d="M1064.1 1134.8l24.2 42.25h-48.4z"/>
<path d="M1070.3 1134.9l24.2 42.25h-48.4z"/>
<path d="M1076.4 1134.2l24.2 42.25h-48.4z"/>
<path d="M1082.5 1134.0l24.2 42.25h-48.4z"/>
<path d="M1088.7 1134.3l24.2 42.25h-48.4z"/>
<path d="M1094.8 1134.7l24.2 42.25h-48.4z"/>
<path d="M1101.0 1134.7l24.2 42.25h-48.4z"/>
<path d="M1107.1 1134.2l24.2 42.25h-48.4z"/>
<path d="M1113.3 1134.1l24.2 42.25h-48.4z"/>
<path d="M1119.4 1135.2l24.2 42.25h-48.4z"/>
<path d="M1125.5 1134.0l24.2 42.25h-48.4z"/>
<path d="M1131.7 1135.2l24.2 42.25h-48.4z"/>
<path d="M1137.8 1135.0l24.2 42.25h-48.4z"/>
<path d="M1144.0 1134.7l24.2 42.25h-48.4z"/>
<path d="M1150.1 1135.3l24.2 42.25h-48.4z"/>
<path d="M1156.3 1134.8l24.2 42.25h-48.4z"/>
<path d="M1162.4 1133.9l24.2 42.25h-48.4z"/>
<path d="M1168.5 1135.2l24.2 42.25h-48.4z"/>
<path d="M1174.7 1134.4l24.2 42.25h-48.4z"/>
<path d="M1180.8 1135.1l24.2 42.25h-48.4z"/>
<path d="M1187.0 1135.0l24.2 42.25h-48.4z"/>
<path d="M1193.1 1134.1l24.2 42.25h-48.4z"/>
<path d="M1199.3 1133.9l24.2 42.25h-48.4z"/>
<path d="M1205.4 1133.9l24.2 42.25h-48.4z"/>
<path d="M1211.6 1134.9l24.2 42.25h-48.4z"/>
<path d="M1217.7 1135.0l24.2 42.25h-48.4z"/>
<path d="M1223.8 1134.2l24.2 42.25h-48.4z"/>
<path d="M1230.0 1134.0l24.2 42.25h-48.4z"/>
<path d="M1236.1 1134.4l24.2 42.25h-48.4z"/>
<path d="M1242.3 1135.0l24.2 42.25h-48.4z"/>
<path d="M1248.4 1134.9l24.2 42.25h-48.4z"/>
<path d="M1254.6 1135.1l24.2 42.25h-48.4z"/>
<path d="M1260.7 1135.2l24.2 42.25h-48.4z"/>
<path d="M1266.8 1134.9l24.2 42.25h-48.4z"/>
<path d="M1273.0 1135.0l24.2 42.25h-48.4z"/>
<path d="M1279.1 1133.9l24.2 42.25h-48.4z"/>
<path d="M1285.3 1133.8l24.2 42.25h-48.4z"/>
<path d="M1291.4 1135.0l24.2 42.25h-48.4z"/>
<path d="M1297.6 1134.7l24.2 42.25h-48.4z"/>
<path d="M1303.7 1134.3l24.2 42.25h-48.4z"/>
<path d="M1309.8 1134.0l24.2 42.25h-48.4z"/>
<path d="M1316.0 1134.3l24.2 42.25h-48.4z"/>
<path d="M1322.1 1134.3l24.2 42.25h-48.4z"/>
<path d="M1328.3 1134.5l24.2 42.25h-48.4z"/>
<path d="M1334.4 1134.4l24.2 42.25h-48.4z"/>
<path d="M1340.6 1134.1l24.2 42.25h-48.4z"/>
<path d="M1346.7 1133.9l24.2 42.25h-48.4z"/>
<path d="M1352.8 1134.1l24.2 42.25h-48.4z"/>
<path d="M1359.0 1134.0l24.2 42.25h-48.4z"/>
<path d="M1365.1 1134.0l24.2 42.25h-48.4z"/>
<path d="M1371.3 1134.4l24.2 42.25h-48.4z"/>
<path d="M1377.4 1134.0l24.2 42.25h-48.4z"/>
<path d="M1383.6 1134.9l24.2 42.25h-48.4z"/>
<path d="M1389.7 1134.6l24.2 42.25h-48.4z"/>
<path d="M1395.9 1134.4l24.2 42.25h-48.4z"/>
<path d="M1402.0 1134.5l24.2 42.25h-48.4z"/>
<path d="M1408.1 1109.1l24.2 42.25h-48.4z"/>
<path d="M1414.3 1109.3l24.2 42.25h-48.4z"/>
<path d="M1420.4 1108.7l24.2 42.25h-48.4z"/>
<path d="M1426.6 1108.4l24.2 42.25h-48.4z"/>
<path d="M1432.7 1108.5l24.2 42.25h-48.4z"/>
<path d="M1438.9 1108.9l24.2 42.25h-48.4z"/>
<path d="M1445.0 1108.9l24.2 42.25h-48.4z"/>
<path d="M1451.1 1108.8l24.2 42.25h-48.4z"/>
<path d="M1457.3 1108.8l24.2 42.25h-48.4z"/>
<path d="M1463.4 1109.6l24.2 42.25h-48.4z"/>
<path d="M1469.6 1108.4l24.2 42.25h-48.4z"/>
<path d="M1475.7 1109.0l24.2 42.25h-48.4z"/>
<path d="M1481.9 1108.8l24.2 42.25h-48.4z"/>
<path d="M1488.0 1108.5l24.2 42.25h-48.4z"/>
<path d="M1494.1 1109.0l24.2 42.25h-48.4z"/>
<path d="M1500.3 1108.1l24.2 42.25h-48.4z"/>
<path d="M1506.4 1107.7l24.2 42.25h-48.4z"/>
<path d="M1512.6 1107.7l24.2 42.25h-48.4z"/>
<path d="M1518.7 1108.7l24.2 42.25h-48.4z"/>
<path d="M1524.9 1107.7l24.2 42.25h-48.4z"/>
<path d="M1531.0 1107.2l24.2 42.25h-48.4z"/>
<path d="M1537.1 1108.3l24.2 42.25h-48.4z"/>
<path d="M1543.3 1107.7l24.2 42.25h-48.4z"/>
<path d="M1549.4 1108.0l24.2 42.25h-48.4z"/>
<path d="M1555.6 1107.0l24.2 42.25h-48.4z"/>
<path d="M1561.7 1107.6l24.2 42.25h-48.4z"/>
<path d="M1567.9 1106.5l24.2 42.25h-48.4z"/>
<path d="M1574.0 1106.8l24.2 42.25h-48.4z"/>
<path d="M1580.1 1107.5l24.2 42.25h-48.4z"/>
<path d="M1586.3 1107.1l24.2 42.25h-48.4z"/>
<path d="M1592.4 1107.5l24.2 42.25h-48.4z"/>
<path d="M1598.6 1106.9l24.2 42.25h-48.4z"/>
<path d="M1604.7 1107.5l24.2 42.25h-48.4z"/>
<path d="M1610.9 1106.4l24.2 42.25h-48.4z"/>
<path d="M1617.0 1107.1l24.2 42.25h-48.4z"/>
<path d="M1623.2 1106.5l24.2 42.25h-48.4z"/>
<path d="M1629.3 1106.5l24.2 42.25h-48.4z"/>
<path d="M1635.4 1107.4l24.2 42.25h-48.4z"/>
<path d="M1641.6 1106.6l24.2 42.25h-48.4z"/>
<path d="M1647.7 1107.0l24.2 42.25h-48.4z"/>
<path d="M1653.9 1106.1l24.2 42.25h-48.4z"/>
<path d="M1660.0 1106.5l24.2 42.25h-48.4z"/>
<path d="M1666.2 1106.6l24.2 42.25h-48.4z"/>
<path d="M1672.3 1106.0l24.2 42.25h-48.4z"/>
<path d="M1678.4 1105.3l24.2 42.25h-48.4z"/>
<path d="M1684.6 1105.9l24.2 42.25h-48.4z"/>
<path d="M1690.7 1106.3l24.2 42.25h-48.4z"/>
<path d="M1696.9 1106.1l24.2 42.25h-48.4z"/>
<path d="M1703.0 1105.6l24.2 42.25h-48.4z"/>
<path d="M1709.2 1105.5l24.2 42.25h-48.4z"/>
<path d="M1715.3 1105.1l24.2 42.25h-48.4z"/>
<path d="M1721.4 1106.1l24.2 42.25h-48.4z"/>
<path d="M1727.6 1105.2l24.2 42.25h-48.4z"/>
<path d="M1733.7 1105.3l24.2 42.25h-48.4z"/>
<path d="M1739.9 1105.0l24.2 42.25h-48.4z"/>
<path d="M1746.0 1105.2l24.2 42.25h-48.4z"/>
<path d="M1752.2 1105.5l24.2 42.25h-48.4z"/>
<path d="M1758.3 1105.6l24.2 42.25h-48.4z"/>
<path d="M1764.4 1105.2l24.2 42.25h-48.4z"/>
<path d="M1770.6 1105.6l24.2 42.25h-48.4z"/>
<path d="M1776.7 617.9l24.2 42.25h-48.4z"/>
<path d="M1782.9 546.8l24.2 42.25h-48.4z"/>
<path d="M1789.0 567.9l24.2 42.25h-48.4z"/>
<path d="M1795.2 605.2l24.2 42.25h-48.4z"/>
<path d="M1801.3 608.1l24.2 42.25h-48.4z"/>
<path d="M1807.5 630.2l24.2 42.25h-48.4z"/>
<path d="M1813.6 639.1l24.2 42.25h-48.4z"/>
<path d="M1819.7 646.1l24.2 42.25h-48.4z"/>
<path d="M1825.9 650.1l24.2 42.25h-48.4z"/>
<path d="M1832.0 649.4l24.2 42.25h-48.4z"/>
<path d="M1838.2 659.1l24.2 42.25h-48.4z"/>
<path d="M1844.3 652.3l24.2 42.25h-48.4z"/>
<path d="M1850.5 666.1l24.2 42.25h-48.4z"/>
<path d="M1856.6 670.1l24.2 42.25h-48.4z"/>
<path d="M1862.7 669.0l24.2 42.25h-48.4z"/>
<path d="M1868.9 675.7l24.2 42.25h-48.4z"/>
<path d="M1875.0 663.4l24.2 42.25h-48.4z"/>
<path d="M1881.2 664.5l24.2 42.25h-48.4z"/>
<path d="M1887.3 672.2l24.2 42.25h-48.4z"/>
<path d="M1893.5 679.8l24.2 42.25h-48.4z"/>
<path d="M1899.6 680.3l24.2 42.25h-48.4z"/>
<path d="M1905.7 673.9l24.2 42.25h-48.4z"/>
<path d="M1911.9 665.1l24.2 42.25h-48.4z"/>
<path d="M1918.0 680.2l24.2 42.25h-48.4z"/>
<path d="M1924.2 682.7l24.2 42.25h-48.4z"/>
<path d="M1930.3 681.2l24.2 42.25h-48.4z"/>
<path d="M1936.5 674.4l24.2 42.25h-48.4z"/>
<path d="M1942.6 671.9l24.2 42.25h-48.4z"/>
<path d="M1948.7 676.0l24.2 42.25h-48.4z"/>
<path d="M1954.9 680.1l24.2 42.25h-48.4z"/>
<path d="M1961.0 684.2l24.2 42.25h-48.4z"/>
<path d="M1967.2 675.0l24.2 42.25h-48.4z"/>
<path d="M1973.3 675.5l24.2 42.25h-48.4z"/>
<path d="M1979.5 672.0l24.2 42.25h-48.4z"/>
<path d="M1985.6 676.6l24.2 42.25h-48.4z"/>
<path d="M1991.8 676.9l24.2 42.25h-48.4z"/>
<path d="M1997.9 672.2l24.2 42.25h-48.4z"/>
<path d="M2004.0 675.8l24.2 42.25h-48.4z"/>
<path d="M2010.2 684.7l24.2 42.25h-48.4z"/>
<path d="M2016.3 672.1l24.2 42.25h-48.4z"/>
<path d="M2022.5 672.5l24.2 42.25h-48.4z"/>
<path d="M2028.6 673.6l24.2 42.25h-48.4z"/>
<path d="M2034.8 684.2l24.2 42.25h-48.4z"/>
<path d="M2040.9 673.8l24.2 42.25h-48.4z"/>
<path d="M2047.0 683.8l24.2 42.25h-48.4z"/>
<path d="M2053.2 685.8l24.2 42.25h-48.4z"/>
<path d="M2059.3 684.9l24.2 42.25h-48.4z"/>
<path d="M2065.5 683.7l24.2 42.25h-48.4z"/>
<path d="M2071.6 672.2l24.2 42.25h-48.4z"/>
<path d="M2077.8 677.2l24.2 42.25h-48.4z"/>
<path d="M2083.9 683.7l24.2 42.25h-48.4z"/>
<path d="M2090.0 672.3l24.2 42.25h-48.4z"/>
<path d="M2096.2 678.5l24.2 42.25h-48.4z"/>
<path d="M2102.3 683.1l24.2 42.25h-48.4z"/>
<path d="M2108.5 683.8l24.2 42.25h-48.4z"/>
<path d="M2114.6 672.3l24.2 42.25h-48.4z"/>
<path d="M2120.8 667.4l24.2 42.25h-48.4z"/>
<path d="M2126.9 665.2l24.2 42.25h-48.4z"/>
<path d="M2133.0 670.6l24.2 42.25h-48.4z"/>
<path d="M2139.2 675.0l24.2 42.25h-48.4z"/>
</g>
</g>
<g id="vlines" stroke="#000" stroke-width="7.6" shape-rendering="crispEdges">
<line x1="662.4" y1="58" x2="662.4" y2="1431"/>
<line x1="1038.2" y1="58" x2="1038.2" y2="1433"/>
<line x1="1401.0" y1="58" x2="1401.0" y2="1428.7"/>
<line x1="1768.2" y1="58" x2="1768.2" y2="1431"/>
</g>
<g id="legend">
<rect x="738" y="58" width="993" height="174" fill="#fff" stroke="#000" stroke-width="2" shape-rendering="crispEdges"/>
<circle class="m g" cx="791.5" cy="86" r="20.3"/>
<rect class="m r" x="773.5" y="127.3" width="35.1" height="35.1"/>
<path class="m p" d="M791.45 176.2 L815.65 218.4 L767.25 218.4 Z"/>
<g clip-path="url(#lgclip)">
<text class="lg" x="856.5" y="102.8" textLength="740.5" lengthAdjust="spacingAndGlyphs">4% ALG-g-HG, 1% PAA-g-P(b-LL)</text>
<text class="lg" x="856.5" y="161.6" textLength="875" lengthAdjust="spacingAndGlyphs">4.25% ALG-g-HG, 0.75% PAA-g-P(b-LL)</text>
<text class="lg" x="856.5" y="220.7" textLength="822" lengthAdjust="spacingAndGlyphs">4.5% ALG-g-HG, 0.5% PAA-g-P(b-LL)</text>
</g></g>
<g id="ylabels">
<text class="tk" x="266.5" y="90.5" text-anchor="end">10<tspan class="sup" dy="-37.9">3</tspan></text>
<text class="tk" x="266.5" y="434.6" text-anchor="end">10<tspan class="sup" dy="-37.9">2</tspan></text>
<text class="tk" x="266.5" y="778.6" text-anchor="end">10<tspan class="sup" dy="-37.9">1</tspan></text>
<text class="tk" x="266.5" y="1122.7" text-anchor="end">10<tspan class="sup" dy="-37.9">0</tspan></text>
<text class="tk" x="266.5" y="1466.8" text-anchor="end">10<tspan class="sup" dy="-37.9">-1</tspan></text>
</g>
<g id="xlabels">
<text class="tk" x="296.0" y="1533.5" text-anchor="middle">0</text>
<text class="tk" x="603.0" y="1533.5" text-anchor="middle">50</text>
<text class="tk" x="910.0" y="1533.5" text-anchor="middle">100</text>
<text class="tk" x="1217.0" y="1533.5" text-anchor="middle">150</text>
<text class="tk" x="1524.0" y="1533.5" text-anchor="middle">200</text>
<text class="tk" x="1831.0" y="1533.5" text-anchor="middle">250</text>
<text class="tk" x="2138.0" y="1533.5" text-anchor="middle">300</text>
</g>
<g clip-path="url(#xtclip)"><text class="tk" x="1218" y="1676.5" text-anchor="middle">t (s)</text></g>
<g clip-path="url(#ytclip)"><text class="tk" transform="translate(78 746) rotate(-90)" text-anchor="middle">η (Pa.s)</text></g>
<text class="an" x="774.0" y="461">20 s<tspan class="ans" dy="-29">-1</tspan></text>
<text class="an" x="1140.2" y="711.9">40 s<tspan class="ans" dy="-29">-1</tspan></text>
<text class="an" x="1499.0" y="470.8">20 s<tspan class="ans" dy="-29">-1</tspan></text>
<text class="an" x="363.5" y="1248">0.01 s<tspan class="ans" dy="-29">-1</tspan></text>
<text class="an" x="1860.3" y="1259.3">0.01 s<tspan class="ans" dy="-29">-1</tspan></text>
</svg></body></html>
